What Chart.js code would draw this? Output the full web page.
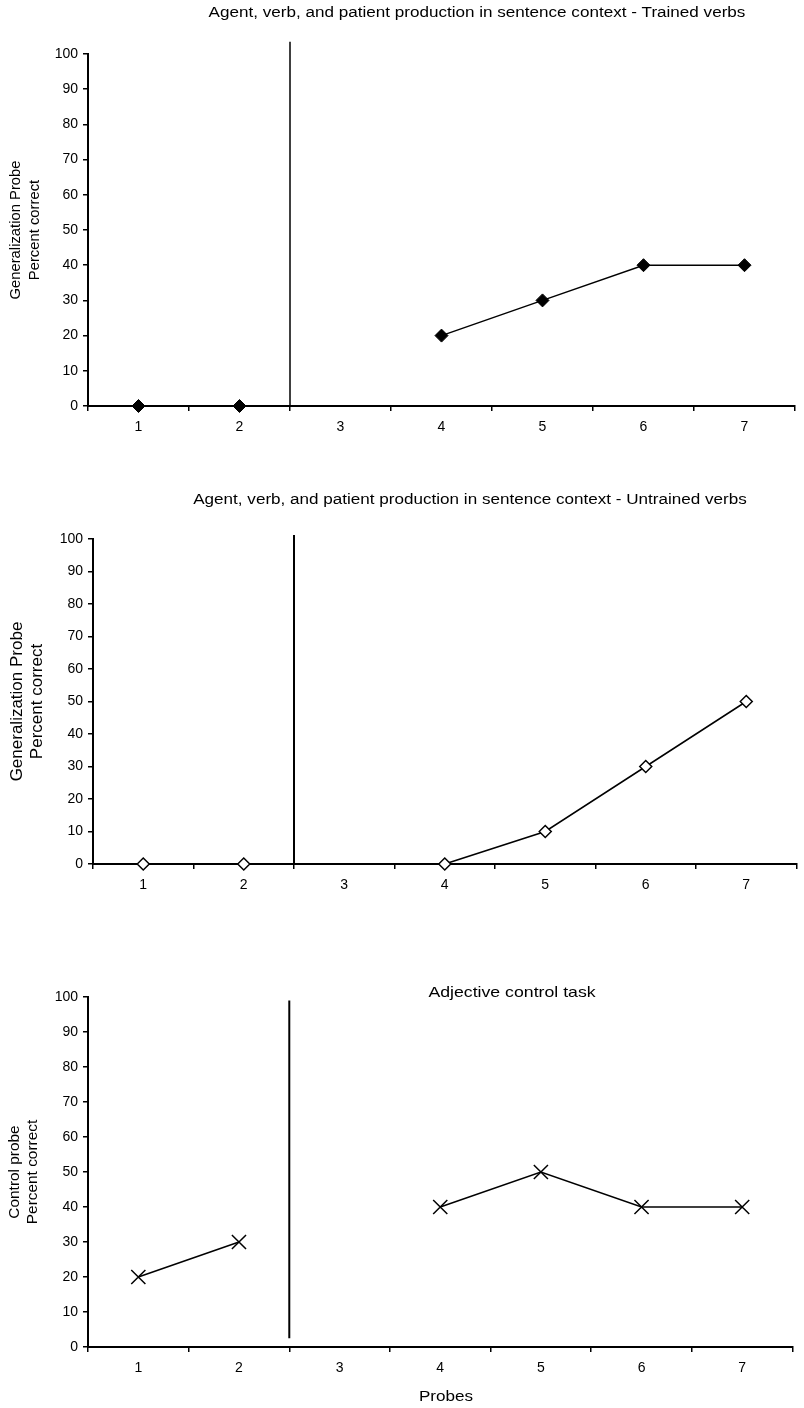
<!DOCTYPE html>
<html>
<head>
<meta charset="utf-8">
<script src="https://cdn.jsdelivr.net/npm/chart.js@4.4.1/dist/chart.umd.min.js"></script>
<style>
  html, body { margin: 0; padding: 0; background: #fff; }
  #page { position: relative; width: 804px; height: 1408px; }
  .box { position: absolute; left: 0; width: 804px; }
</style>
</head>
<body>
<div id="page">
  <div class="box" style="top:0;height:440px"><canvas id="trained"></canvas></div>
  <div class="box" style="top:460px;height:440px"><canvas id="untrained"></canvas></div>
  <div class="box" style="top:960px;height:448px"><canvas id="control"></canvas></div>
</div>
<script>
// === Data ===
const probes = ['1', '2', '3', '4', '5', '6', '7'];
const trainedVerbs = [0, 0, null, 20, 30, 40, 40];
const untrainedVerbs = [0, 0, null, 0, 10, 30, 50];
const adjectiveControl = [20, 30, null, 40, 50, 40, 40];
const yMin = 0;
const yMax = 100;
const yStep = 10;
const phaseBetween = ['2', '3'];   // baseline / treatment split

const FONT = "'Liberation Sans', Arial, Helvetica, sans-serif";

// headings drawn slightly stretched, like the original figure
const headings = {
    id: 'headings',
    afterDraw(chart, args, opts) {
        const ctx = chart.ctx;
        (opts.items || []).forEach(h => {
            ctx.save();
            ctx.font = h.size + 'px ' + FONT;
            ctx.fillStyle = '#000';
            ctx.textAlign = 'center';
            ctx.textBaseline = 'middle';
            ctx.translate(h.x, h.y);
            ctx.scale(h.stretch || 1.22, 1);
            ctx.fillText(h.text, 0, 0);
            ctx.restore();
        });
    }
};

// vertical phase-change line between two probes
const phaseLine = {
    id: 'phaseLine',
    afterDatasetsDraw(chart, args, opts) {
        const xs = chart.scales.x, ys = chart.scales.y, ctx = chart.ctx;
        const mid = (probes.indexOf(phaseBetween[0]) + probes.indexOf(phaseBetween[1])) / 2;
        const px = xs.getPixelForValue(mid);
        ctx.save();
        ctx.strokeStyle = '#000';
        ctx.lineWidth = opts.width || 2;
        ctx.beginPath();
        ctx.moveTo(px, ys.getPixelForValue(opts.from));
        ctx.lineTo(px, ys.getPixelForValue(opts.to));
        ctx.stroke();
        ctx.restore();
    }
};

function buildScales(o) {
    return {
        x: {
            type: 'category',
            offset: true,
            afterFit: s => { s.height = o.xh; },
            border: { color: '#000', width: 2 },
            grid: { offset: true, drawOnChartArea: false, drawTicks: true, tickLength: 5, color: '#000', lineWidth: 1.5 },
            ticks: { color: '#000', font: { family: FONT, size: 14 }, padding: 8, maxRotation: 0, autoSkip: false }
        },
        y: {
            min: yMin,
            max: yMax,
            afterFit: s => { s.width = o.yw; },
            border: { color: '#000', width: 2 },
            grid: { drawOnChartArea: false, drawTicks: true, tickLength: 5, color: '#000', lineWidth: 1.5 },
            ticks: { stepSize: yStep, color: '#000', font: { family: FONT, size: 14 }, padding: 5 },
            title: {
                display: true,
                text: o.yTitle,
                color: '#000',
                font: { family: FONT, size: o.ts, lineHeight: o.lh },
                padding: { top: o.tp, bottom: 0 }
            }
        }
    };
}

function makeChart(id, ds, o) {
    return new Chart(document.getElementById(id), {
        type: 'line',
        data: {
            labels: probes,
            datasets: [Object.assign({
                data: ds.data,
                borderColor: '#000',
                borderWidth: 1.5,
                spanGaps: false,
                tension: 0,
                fill: false,
                clip: false,
                pointBorderColor: '#000'
            }, ds.style)]
        },
        options: {
            responsive: true,
            maintainAspectRatio: false,
            animation: false,
            layout: { padding: { top: o.pt, right: o.pr, left: 0, bottom: 0 } },
            plugins: {
                legend: { display: false },
                tooltip: { enabled: false },
                headings: { items: o.headings },
                phaseLine: o.phase
            },
            scales: buildScales(o)
        },
        plugins: [headings, phaseLine]
    });
}

// === Chart 1: trained verbs ===
makeChart('trained', {
    data: trainedVerbs,
    style: { pointStyle: 'rectRot', pointRadius: 6.5, pointBackgroundColor: '#000', pointBorderWidth: 1 }
}, {
    pt: 54, pr: 9, xh: 34, yw: 88,
    yTitle: ['Generalization Probe', 'Percent correct'], ts: 14.8, lh: 1.28, tp: 6,
    phase: { from: 0, to: 103.5, width: 1.5 },
    headings: [{ text: 'Agent, verb, and patient production in sentence context - Trained verbs', x: 477, y: 13, size: 14 }]
});

// === Chart 2: untrained verbs ===
makeChart('untrained', {
    data: untrainedVerbs,
    style: { pointStyle: 'rectRot', pointRadius: 6, pointBackgroundColor: '#fff', pointBorderWidth: 1.5 }
}, {
    pt: 79, pr: 7, xh: 36, yw: 93,
    yTitle: ['Generalization Probe', 'Percent correct'], ts: 17, lh: 1.18, tp: 7,
    phase: { from: 0, to: 101.2, width: 2 },
    headings: [{ text: 'Agent, verb, and patient production in sentence context - Untrained verbs', x: 470, y: 40, size: 14 }]
});

// === Chart 3: adjective control ===
makeChart('control', {
    data: adjectiveControl,
    style: { pointStyle: 'crossRot', pointRadius: 10, pointBorderWidth: 1.5 }
}, {
    pt: 37, pr: 2, xh: 61, yw: 88,
    yTitle: ['Control probe', 'Percent correct'], ts: 15.4, lh: 1.17, tp: 6,
    phase: { from: 2.5, to: 99, width: 2 },
    headings: [
        { text: 'Adjective control task', x: 512, y: 33, size: 14.5 },
        { text: 'Probes', x: 446, y: 437, size: 14 }
    ]
});
</script>
</body>
</html>
